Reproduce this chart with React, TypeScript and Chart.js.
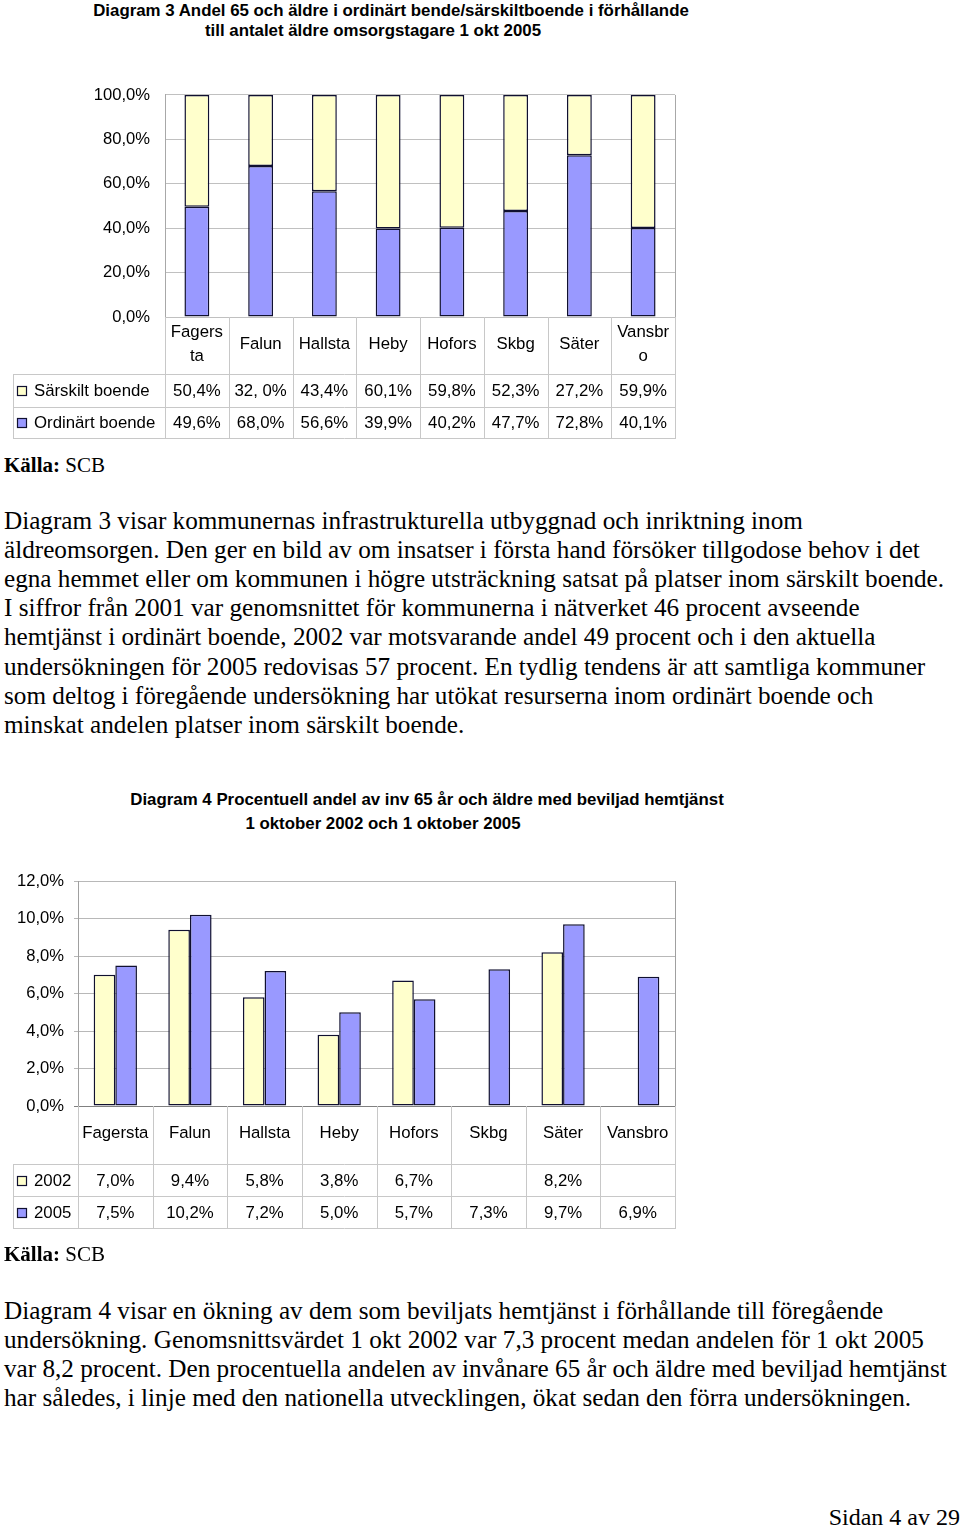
import React, { useEffect, useRef } from 'react';
import { Chart, registerables } from 'chart.js';
Chart.register(...registerables);

// ---------- Diagram 3 data ----------
const chart1Categories = [['Fagers', 'ta'], ['Falun'], ['Hallsta'], ['Heby'], ['Hofors'], ['Skbg'], ['Säter'], ['Vansbr', 'o']];
const sarskiltBoende = [50.4, 32.0, 43.4, 60.1, 59.8, 52.3, 27.2, 59.9];
const ordinartBoende = [49.6, 68.0, 56.6, 39.9, 40.2, 47.7, 72.8, 40.1];
const sarskiltLabels = ['50,4%', '32, 0%', '43,4%', '60,1%', '59,8%', '52,3%', '27,2%', '59,9%'];
const ordinartLabels = ['49,6%', '68,0%', '56,6%', '39,9%', '40,2%', '47,7%', '72,8%', '40,1%'];
const chart1TickValues = [0, 20, 40, 60, 80, 100];
const chart1TickLabels = ['0,0%', '20,0%', '40,0%', '60,0%', '80,0%', '100,0%'];

// ---------- Diagram 4 data ----------
const chart2Categories = [['Fagersta'], ['Falun'], ['Hallsta'], ['Heby'], ['Hofors'], ['Skbg'], ['Säter'], ['Vansbro']];
const hemtjanst2002 = [7.0, 9.4, 5.8, 3.8, 6.7, null, 8.2, null];
const hemtjanst2005 = [7.5, 10.2, 7.2, 5.0, 5.7, 7.3, 9.7, 6.9];
const labels2002 = ['7,0%', '9,4%', '5,8%', '3,8%', '6,7%', '', '8,2%', ''];
const labels2005 = ['7,5%', '10,2%', '7,2%', '5,0%', '5,7%', '7,3%', '9,7%', '6,9%'];
const chart2TickValues = [0, 2, 4, 6, 8, 10, 12];
const chart2TickLabels = ['0,0%', '2,0%', '4,0%', '6,0%', '8,0%', '10,0%', '12,0%'];

const YELLOW = '#FFFFCC';
const BLUE = '#9999FF';
const BAR_BORDER = '#101030';
const SANS = '"Liberation Sans", Arial, sans-serif';
const SERIF = '"Liberation Serif", "Times New Roman", serif';

const paragraph1 = [
  'Diagram 3 visar kommunernas infrastrukturella utbyggnad och inriktning inom',
  'äldreomsorgen. Den ger en bild av om insatser i första hand försöker tillgodose behov i det',
  'egna hemmet eller om kommunen i högre utsträckning satsat på platser inom särskilt boende.',
  'I siffror från 2001 var genomsnittet för kommunerna i nätverket 46 procent avseende',
  'hemtjänst i ordinärt boende, 2002 var motsvarande andel 49 procent och i den aktuella',
  'undersökningen för 2005 redovisas 57 procent. En tydlig tendens är att samtliga kommuner',
  'som deltog i föregående undersökning har utökat resurserna inom ordinärt boende och',
  'minskat andelen platser inom särskilt boende.',
];
const paragraph2 = [
  'Diagram 4 visar en ökning av dem som beviljats hemtjänst i förhållande till föregående',
  'undersökning. Genomsnittsvärdet 1 okt 2002 var 7,3 procent medan andelen för 1 okt 2005',
  'var 8,2 procent. Den procentuella andelen av invånare 65 år och äldre med beviljad hemtjänst',
  'har således, i linje med den nationella utvecklingen, ökat sedan den förra undersökningen.',
];

const tablePlugin = {
  id: 'dataTable',
  beforeDatasetsDraw(chart: any, _a: any, opts: any) {
    const { ctx, chartArea: ca } = chart;
    ctx.save();
    ctx.strokeStyle = opts.frameColor;
    ctx.lineWidth = 1;
    ctx.beginPath();
    ctx.moveTo(Math.round(ca.right) + 0.5, ca.top);
    ctx.lineTo(Math.round(ca.right) + 0.5, ca.bottom);
    ctx.stroke();
    ctx.restore();
  },
  afterDraw(chart: any, _a: any, opts: any) {
    const { ctx, chartArea: ca, scales } = chart;
    const xs = scales.x;
    const n = opts.categories.length;
    const colW = (ca.right - ca.left) / n;
    const { row1Top, row2Top, bottom, legendLeft } = opts;
    ctx.save();
    ctx.strokeStyle = opts.lineColor;
    ctx.lineWidth = 1;
    ctx.beginPath();
    for (let i = 0; i <= n; i++) {
      const xb = Math.round(ca.left + i * colW) + 0.5;
      ctx.moveTo(xb, ca.bottom);
      ctx.lineTo(xb, bottom);
    }
    [row1Top, row2Top, bottom].forEach((y: number) => {
      ctx.moveTo(legendLeft, y + 0.5);
      ctx.lineTo(ca.right + 1, y + 0.5);
    });
    ctx.moveTo(legendLeft + 0.5, row1Top);
    ctx.lineTo(legendLeft + 0.5, bottom);
    ctx.stroke();

    ctx.fillStyle = '#000';
    ctx.font = opts.font;
    ctx.textAlign = 'center';
    ctx.textBaseline = 'middle';
    const headerMid = (ca.bottom + row1Top) / 2 + opts.headerOffset;
    opts.categories.forEach((lines: string[], i: number) => {
      const cx = xs.getPixelForValue(i);
      const start = headerMid - ((lines.length - 1) * opts.lineGap) / 2;
      lines.forEach((t, j) => ctx.fillText(t, cx, start + j * opts.lineGap));
    });

    opts.rows.forEach((row: any, r: number) => {
      const top = r === 0 ? row1Top : row2Top;
      const bot = r === 0 ? row2Top : bottom;
      const mid = (top + bot) / 2 + opts.rowOffset;
      ctx.fillStyle = row.color;
      ctx.fillRect(legendLeft + 4.5, Math.round(mid) - 4.5, 9, 9);
      ctx.strokeStyle = BAR_BORDER;
      ctx.lineWidth = 1.2;
      ctx.strokeRect(legendLeft + 4.5, Math.round(mid) - 4.5, 9, 9);
      ctx.fillStyle = '#000';
      ctx.textAlign = 'left';
      ctx.fillText(row.name, legendLeft + 21, mid);
      ctx.textAlign = 'center';
      row.labels.forEach((t: string, i: number) => ctx.fillText(t, xs.getPixelForValue(i), mid));
    });
    ctx.restore();
  },
};

function Diagram3() {
  const ref = useRef<HTMLCanvasElement>(null);
  useEffect(() => {
    const chart = new Chart(ref.current!, {
      type: 'bar',
      data: {
        labels: chart1Categories.map((l) => l.join('')),
        datasets: [
          {
            label: 'Ordinärt boende',
            data: ordinartBoende,
            backgroundColor: BLUE,
            borderColor: BAR_BORDER,
            borderWidth: 1.5,
            borderSkipped: false,
            barPercentage: 0.39,
            categoryPercentage: 1,
          },
          {
            label: 'Särskilt boende',
            data: sarskiltBoende,
            backgroundColor: YELLOW,
            borderColor: BAR_BORDER,
            borderWidth: 1.5,
            borderSkipped: false,
            barPercentage: 0.39,
            categoryPercentage: 1,
          },
        ],
      },
      options: {
        responsive: false,
        animation: false,
        devicePixelRatio: 1,
        layout: { padding: { left: 0, top: 23, right: 25, bottom: 133 } },
        scales: {
          x: { display: false, stacked: true },
          y: {
            stacked: true,
            min: 0,
            max: 100,
            afterFit: (s: any) => { s.width = 165; },
            afterBuildTicks: (s: any) => { s.ticks = chart1TickValues.map((v) => ({ value: v })); },
            ticks: {
              padding: 15,
              color: '#000',
              font: { family: SANS, size: 16.6 },
              callback: (v: any) => chart1TickLabels[chart1TickValues.indexOf(Number(v))] ?? '',
            },
            grid: { color: '#c0c0c0', drawTicks: false, lineWidth: 1 },
            border: { color: '#a8a8a8' },
          },
        },
        plugins: {
          legend: { display: false },
          tooltip: { enabled: false },
          dataTable: {
            categories: chart1Categories,
            row1Top: 304,
            row2Top: 337,
            bottom: 368,
            legendLeft: 13,
            lineColor: '#c8c8c8',
            frameColor: '#a8a8a8',
            font: `16.8px ${SANS}`,
            headerOffset: -1,
            lineGap: 24,
            rowOffset: 0.5,
            rows: [
              { name: 'Särskilt boende', color: YELLOW, labels: sarskiltLabels },
              { name: 'Ordinärt boende', color: BLUE, labels: ordinartLabels },
            ],
          },
        } as any,
      },
      plugins: [tablePlugin],
    });
    return () => chart.destroy();
  }, []);
  return <canvas ref={ref} width={700} height={380} style={{ position: 'absolute', left: 0, top: 70 }} />;
}

function Diagram4() {
  const ref = useRef<HTMLCanvasElement>(null);
  useEffect(() => {
    const chart = new Chart(ref.current!, {
      type: 'bar',
      data: {
        labels: chart2Categories.map((l) => l.join('')),
        datasets: [
          {
            label: '2002',
            data: hemtjanst2002,
            backgroundColor: YELLOW,
            borderColor: BAR_BORDER,
            borderWidth: 1.5,
            borderSkipped: false,
            barPercentage: 1,
            categoryPercentage: 0.58,
          },
          {
            label: '2005',
            data: hemtjanst2005,
            backgroundColor: BLUE,
            borderColor: BAR_BORDER,
            borderWidth: 1.5,
            borderSkipped: false,
            barPercentage: 1,
            categoryPercentage: 0.58,
          },
        ],
      },
      options: {
        responsive: false,
        animation: false,
        devicePixelRatio: 1,
        layout: { padding: { left: 0, top: 21, right: 25, bottom: 134 } },
        scales: {
          x: { display: false },
          y: {
            min: 0,
            max: 12,
            afterFit: (s: any) => { s.width = 78; },
            afterBuildTicks: (s: any) => { s.ticks = chart2TickValues.map((v) => ({ value: v })); },
            ticks: {
              padding: 10,
              color: '#000',
              font: { family: SANS, size: 16.6 },
              callback: (v: any) => chart2TickLabels[chart2TickValues.indexOf(Number(v))] ?? '',
            },
            grid: {
              color: (c: any) => (c.tick && c.tick.value === 0 ? '#808080' : '#b8b8b8'),
              tickLength: 4,
              lineWidth: 1,
            },
            border: { color: '#a0a0a0' },
          },
        },
        plugins: {
          legend: { display: false },
          tooltip: { enabled: false },
          dataTable: {
            categories: chart2Categories,
            row1Top: 304,
            row2Top: 336,
            bottom: 368,
            legendLeft: 13,
            lineColor: '#c8c8c8',
            frameColor: '#a0a0a0',
            font: `16.8px ${SANS}`,
            headerOffset: -2,
            lineGap: 24,
            rowOffset: 1,
            rows: [
              { name: '2002', color: YELLOW, labels: labels2002 },
              { name: '2005', color: BLUE, labels: labels2005 },
            ],
          },
        } as any,
      },
      plugins: [tablePlugin],
    });
    return () => chart.destroy();
  }, []);
  return <canvas ref={ref} width={700} height={380} style={{ position: 'absolute', left: 0, top: 860 }} />;
}

function CenterLine({ text, cx, cy, size, bold }: { text: string; cx: number; cy: number; size: number; bold?: boolean }) {
  return (
    <div
      style={{
        position: 'absolute', left: cx - 500, width: 1000, top: cy - 12, height: 24, lineHeight: '24px',
        textAlign: 'center', whiteSpace: 'nowrap', fontFamily: SANS, fontSize: size, fontWeight: bold ? 700 : 400,
      }}
    >
      {text}
    </div>
  );
}

function TextLines({ lines, top, size, gap }: { lines: string[]; top: number; size: number; gap: number }) {
  return (
    <>
      {lines.map((t, i) => (
        <div
          key={i}
          style={{
            position: 'absolute', left: 4, top: top + i * gap - 15, height: 30, lineHeight: '30px',
            whiteSpace: 'nowrap', fontFamily: SERIF, fontSize: size, color: '#000',
          }}
        >
          {t}
        </div>
      ))}
    </>
  );
}

export default function App() {
  useEffect(() => {
    document.body.style.margin = '0';
  }, []);
  const pSize = 25.2;
  const kSize = 21;
  return (
    <div style={{ position: 'absolute', left: 0, top: 0, width: 960, height: 1527, overflow: 'hidden', background: '#fff', color: '#000' }}>
      <CenterLine text="Diagram 3 Andel 65 och äldre i ordinärt bende/särskiltboende i förhållande" cx={391} cy={11} size={16.85} bold />
      <CenterLine text="till antalet äldre omsorgstagare 1 okt 2005" cx={373} cy={31} size={16.85} bold />
      <Diagram3 />
      <div style={{ position: 'absolute', left: 4, top: 450, height: 30, lineHeight: '30px', fontFamily: SERIF, fontSize: kSize, whiteSpace: 'nowrap' }}>
        <b>Källa:</b> SCB
      </div>
      <TextLines lines={paragraph1} top={521} size={pSize} gap={29.1} />
      <CenterLine text="Diagram 4 Procentuell andel av inv 65 år och äldre med beviljad hemtjänst" cx={427} cy={800} size={16.85} bold />
      <CenterLine text="1 oktober 2002 och 1 oktober 2005" cx={383} cy={824} size={16.85} bold />
      <Diagram4 />
      <div style={{ position: 'absolute', left: 4, top: 1239, height: 30, lineHeight: '30px', fontFamily: SERIF, fontSize: kSize, whiteSpace: 'nowrap' }}>
        <b>Källa:</b> SCB
      </div>
      <TextLines lines={paragraph2} top={1311} size={pSize} gap={29} />
      <div style={{ position: 'absolute', right: 0, top: 1502, height: 30, lineHeight: '30px', fontFamily: SERIF, fontSize: 24, whiteSpace: 'nowrap' }}>
        Sidan 4 av 29
      </div>
    </div>
  );
}
